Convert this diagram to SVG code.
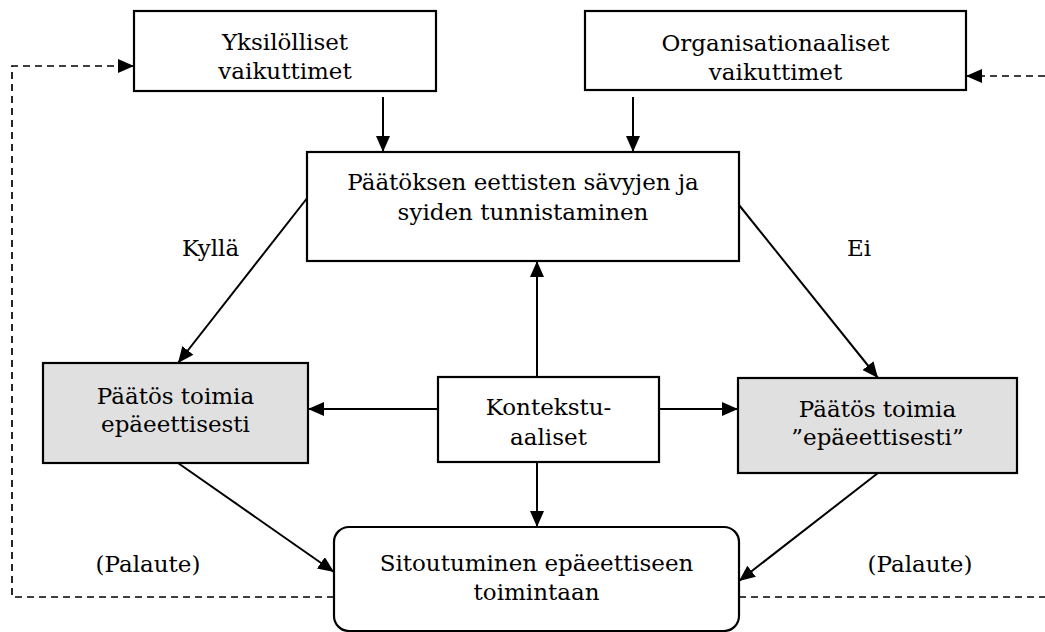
<svg xmlns="http://www.w3.org/2000/svg" width="1045" height="632" viewBox="0 0 1045 632">
  <defs>
    <marker id="arrow" markerUnits="userSpaceOnUse" markerWidth="17" markerHeight="15" refX="16" refY="7" orient="auto">
      <path d="M0,0 L16,7 L0,14 Z" fill="#000"/>
    </marker>
    <style>
      .box { fill: #fff; stroke: #000; stroke-width: 2.2; }
      .grey { fill: #e0e0e0; stroke: #000; stroke-width: 2.2; }
      .line { fill: none; stroke: #000; stroke-width: 2; }
      .dash { fill: none; stroke: #000; stroke-width: 1.7; stroke-dasharray: 7 5; }
      text { font-family: "DejaVu Serif", "Liberation Serif", serif; font-size: 23px; fill: #000; }
      .c { text-anchor: middle; }
    </style>
  </defs>

  <rect width="1045" height="632" fill="#fff"/>

  <!-- connectors -->
  <g id="connectors">
    <line class="line" x1="383" y1="97" x2="383" y2="152" marker-end="url(#arrow)"/>
    <line class="line" x1="633" y1="97" x2="633" y2="152" marker-end="url(#arrow)"/>
    <line class="line" x1="308" y1="197" x2="178" y2="363" marker-end="url(#arrow)"/>
    <line class="line" x1="739" y1="205" x2="878" y2="378" marker-end="url(#arrow)"/>
    <line class="line" x1="438" y1="409" x2="308" y2="409" marker-end="url(#arrow)"/>
    <line class="line" x1="659" y1="409" x2="738" y2="409" marker-end="url(#arrow)"/>
    <line class="line" x1="537" y1="377" x2="537" y2="261" marker-end="url(#arrow)"/>
    <line class="line" x1="537" y1="462" x2="537" y2="527" marker-end="url(#arrow)"/>
    <line class="line" x1="178" y1="463" x2="334" y2="572" marker-end="url(#arrow)"/>
    <line class="line" x1="878" y1="473" x2="739" y2="581" marker-end="url(#arrow)"/>
    <!-- feedback loops -->
    <polyline class="dash" points="334,597 12,597 12,66 134,66" marker-end="url(#arrow)"/>
    <line class="dash" x1="739" y1="597" x2="1045" y2="597"/>
    <line class="dash" x1="1045" y1="76" x2="966" y2="76" marker-end="url(#arrow)"/>
  </g>

  <g id="yksilolliset">
    <rect class="box" x="134" y="11" width="302" height="80"/>
    <text class="c" x="285" y="50">Yksilölliset</text>
    <text class="c" x="285" y="79">vaikuttimet</text>
  </g>

  <g id="organisationaaliset">
    <rect class="box" x="585" y="11" width="381" height="79"/>
    <text class="c" x="775.5" y="51">Organisationaaliset</text>
    <text class="c" x="775.5" y="80">vaikuttimet</text>
  </g>

  <g id="tunnistaminen">
    <rect class="box" x="307" y="152" width="432" height="109"/>
    <text class="c" x="523" y="190">Päätöksen eettisten sävyjen ja</text>
    <text class="c" x="523" y="220">syiden tunnistaminen</text>
  </g>

  <g id="paatos-vasen">
    <rect class="grey" x="43" y="363" width="265" height="100"/>
    <text class="c" x="175.5" y="404">Päätös toimia</text>
    <text class="c" x="175.5" y="432">epäeettisesti</text>
  </g>

  <g id="kontekstuaaliset">
    <rect class="box" x="438" y="377" width="221" height="85"/>
    <text class="c" x="548.5" y="415">Kontekstu-</text>
    <text class="c" x="548.5" y="445">aaliset</text>
  </g>

  <g id="paatos-oikea">
    <rect class="grey" x="738" y="378" width="279" height="95"/>
    <text class="c" x="877.5" y="417">Päätös toimia</text>
    <text class="c" x="877.5" y="445">”epäeettisesti”</text>
  </g>

  <g id="sitoutuminen">
    <rect class="box" x="334" y="527" width="405" height="104" rx="15" ry="15"/>
    <text class="c" x="536.5" y="571">Sitoutuminen epäeettiseen</text>
    <text class="c" x="536.5" y="600">toimintaan</text>
  </g>

  <g id="labels">
    <text x="182" y="256">Kyllä</text>
    <text x="847" y="256">Ei</text>
    <text class="c" x="148" y="572">(Palaute)</text>
    <text class="c" x="920" y="572">(Palaute)</text>
  </g>
</svg>
